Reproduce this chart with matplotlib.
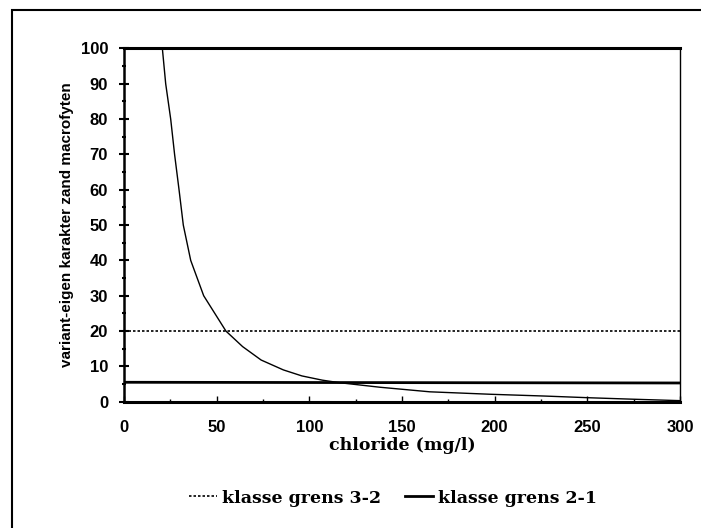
import matplotlib.pyplot as plt
from matplotlib.patches import Rectangle
from matplotlib.ticker import MultipleLocator

# curve
chloride = [20.7, 22.5, 25.2, 27.3, 29.7, 32, 36, 43, 55, 64, 74, 86, 96,
            107, 116, 138, 165, 198, 227, 252, 275, 300]
karakter = [100, 90, 80, 70, 60, 50, 40, 30, 20, 15.6, 11.8, 9.0, 7.3,
            6.1, 5.4, 4.1, 2.8, 2.1, 1.6, 1.1, 0.7, 0.3]

grens_x = [0, 300]
grens_32 = [20, 20]
grens_21 = [5.5, 5.3]

xticks = [0, 50, 100, 150, 200, 250, 300]
yticks = [0, 10, 20, 30, 40, 50, 60, 70, 80, 90, 100]

plt.rcParams['font.family'] = 'Liberation Sans'
plt.rcParams['font.weight'] = 'bold'

fig = plt.figure(figsize=(7.01, 5.28), dpi=100)
ax = fig.add_axes([0.1769, 0.2392, 0.793, 0.669])

ax.plot(chloride, karakter, color='black', lw=1.0, clip_on=False)
l1, = ax.plot(grens_x, grens_32, color='black', lw=1.2, ls=(0, (1.5, 1.2)),
              label='klasse grens 3-2')
l2, = ax.plot(grens_x, grens_21, color='black', lw=2.0,
              label='klasse grens 2-1')

ax.set_xlim(0, 300)
ax.set_ylim(0, 100)
ax.set_xticks(xticks)
ax.set_yticks(yticks)
ax.xaxis.set_minor_locator(MultipleLocator(25))
ax.yaxis.set_minor_locator(MultipleLocator(5))

ax.spines['left'].set_linewidth(1.8)
ax.spines['bottom'].set_linewidth(2.2)
ax.spines['top'].set_linewidth(2.2)
ax.spines['right'].set_linewidth(1.0)

ax.tick_params(axis='y', which='major', direction='inout', length=7,
               width=1.5, pad=8, labelsize=12)
ax.tick_params(axis='y', which='minor', direction='inout', length=3, width=1.5)
ax.tick_params(axis='x', which='major', direction='in', length=4,
               width=1.0, pad=13, labelsize=12)
ax.tick_params(axis='x', which='minor', direction='in', length=2, width=1.0)

ax.set_xlabel('chloride (mg/l)', family='DejaVu Serif', weight='bold',
              fontsize=12.5, va='center')
ax.xaxis.set_label_coords(0.5, -0.125)
ax.set_ylabel('variant-eigen karakter zand macrofyten', fontsize=11,
              weight='bold', va='center')
ax.yaxis.set_label_coords(-0.102, 0.5)

fig.legend(handles=[l1, l2], loc='center', bbox_to_anchor=(0.561, 0.0568),
           ncol=2, frameon=False, handlelength=1.6, handletextpad=0.3,
           columnspacing=1.4,
           prop={'family': 'DejaVu Serif', 'weight': 'bold', 'size': 12.5})

# outer frame of the scanned page (right and bottom edges are cut off)
fig.add_artist(Rectangle((11.5 / 701, -0.05), 1.0, 1.031,
                         transform=fig.transFigure, fill=False, lw=1.5,
                         ec='black'))

fig.savefig('out.png', dpi=100)
